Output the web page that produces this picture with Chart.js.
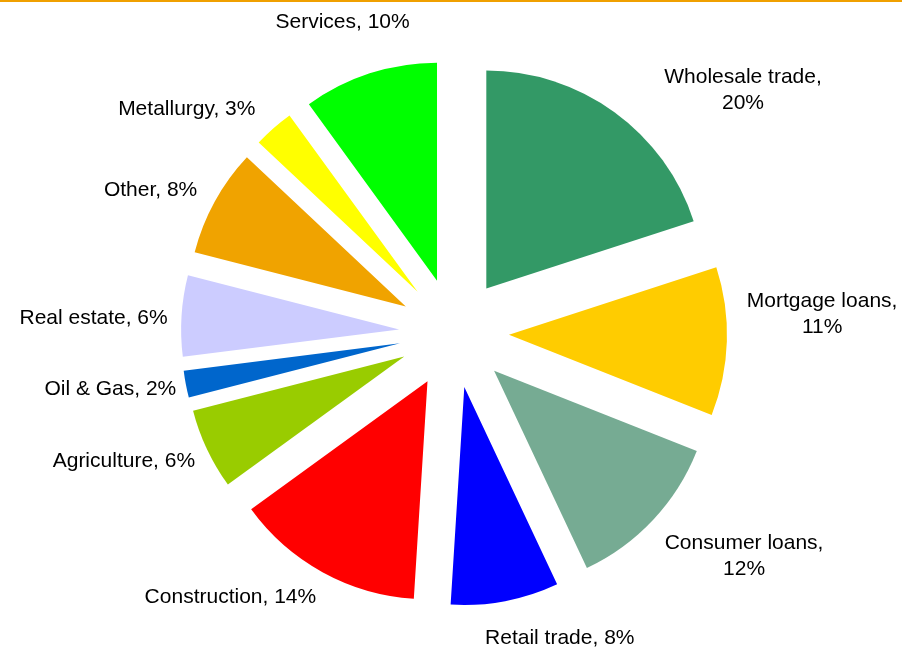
<!DOCTYPE html>
<html>
<head>
<meta charset="utf-8">
<script src="https://cdn.jsdelivr.net/npm/chart.js"></script>
<style>
  html, body { margin: 0; padding: 0; background: #fff; }
  #wrap { width: 902px; height: 649px; position: relative; }
</style>
</head>
<body>
<div id="wrap"><canvas id="lending-pie" width="902" height="649"></canvas></div>
<script>
// Loan portfolio by sector, clockwise from 12 o'clock
const sectors = ['Wholesale trade', 'Mortgage loans', 'Consumer loans', 'Retail trade', 'Construction',
    'Agriculture', 'Oil & Gas', 'Real estate', 'Other', 'Metallurgy', 'Services'];
const shares = [20, 11, 12, 8, 14, 6, 2, 6, 8, 3, 10];
const sliceColors = ['#339966', '#FFCC00', '#76AB93', '#0000FF', '#FF0000',
    '#99CC00', '#0066CC', '#CCCCFF', '#F0A300', '#FFFF00', '#00FF00'];
// which labels put the percentage on a second line
const wrapLabel = [true, true, true, false, false, false, false, false, false, false, false];
// hand nudges for label boxes (Excel placed some of them by hand)
const labelNudge = [[74, 8], [6, -29], [23, 11], [38, 13], [-44, 4], [-6, 2], [3, 0], [0, 4], [-11, 1], [-32, -1], [-2, -28]];

const EXPLODE = 55;
const LABEL_GAP = 14;
const LINE_H = 26;
const FONT = '21px "Liberation Sans", Arial, sans-serif';

// pull every slice out along its middle angle (built-in offset also grows thin slices)
const baseArcDraw = Chart.ArcElement.prototype.draw;
Chart.ArcElement.prototype.draw = function(ctx) {
    const mid = (this.startAngle + this.endAngle) / 2;
    ctx.save();
    ctx.translate(Math.cos(mid) * EXPLODE, Math.sin(mid) * EXPLODE);
    baseArcDraw.call(this, ctx);
    ctx.restore();
};

const topRule = {
    id: 'topRule',
    beforeDraw(chart) {
        const ctx = chart.ctx;
        ctx.save();
        ctx.fillStyle = '#F0A000';
        ctx.fillRect(0, 0, chart.width, 2);
        ctx.restore();
    }
};

const sliceLabels = {
    id: 'sliceLabels',
    afterDatasetsDraw(chart) {
        const ctx = chart.ctx;
        const arcs = chart.getDatasetMeta(0).data;
        ctx.save();
        ctx.font = FONT;
        ctx.fillStyle = '#000';
        ctx.textAlign = 'center';
        ctx.textBaseline = 'middle';
        arcs.forEach(function(arc, i) {
            const lines = wrapLabel[i]
                ? [sectors[i] + ',', shares[i] + '%']
                : [sectors[i] + ', ' + shares[i] + '%'];
            const w = Math.max.apply(null, lines.map(function(s) { return ctx.measureText(s).width; }));
            const h = lines.length * LINE_H - 5;
            const mid = (arc.startAngle + arc.endAngle) / 2;
            const dx = Math.cos(mid), dy = Math.sin(mid);
            const r = arc.outerRadius + EXPLODE + LABEL_GAP;
            const cx = arc.x + dx * r + dx * w / 2 + labelNudge[i][0];
            const cy = arc.y + dy * r + dy * h / 2 + labelNudge[i][1];
            const y0 = cy - (lines.length - 1) * LINE_H / 2;
            lines.forEach(function(s, k) {
                ctx.fillText(s, cx, y0 + k * LINE_H);
            });
        });
        ctx.restore();
    }
};

const ctx = document.getElementById('lending-pie').getContext('2d');
const lendingPie = new Chart(ctx, {
    type: 'pie',
    data: {
        labels: sectors,
        datasets: [{
            data: shares,
            backgroundColor: sliceColors,
            borderWidth: 0,
            offset: 0,
            hoverOffset: 0
        }]
    },
    options: {
        responsive: false,
        animation: false,
        events: [],
        radius: 218,
        layout: {
            padding: { left: 6, top: 17, right: 0, bottom: 0 }
        },
        plugins: {
            legend: { display: false },
            tooltip: { enabled: false }
        }
    },
    plugins: [topRule, sliceLabels]
});
</script>
</body>
</html>
